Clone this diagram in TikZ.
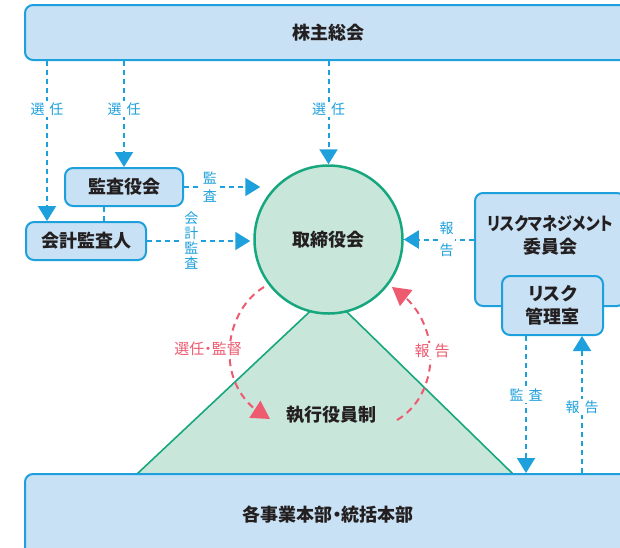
\documentclass[tikz,border=0pt]{standalone}
\usepackage{fontspec}
\setmainfont{Noto Sans CJK JP}[RawFeature=+palt]
\usepackage{tikz}
\usetikzlibrary{%
  positioning,%
  calc,%
  arrows.meta,%
  bending%
}
\definecolor{bline}{HTML}{1EA0DC}
\definecolor{bfill}{HTML}{C9E1F4}
\definecolor{gline}{HTML}{17A77E}
\definecolor{gfill}{HTML}{C9E6DB}
\definecolor{pline}{HTML}{EE5A6F}
\definecolor{ink}{HTML}{231F20}
\tikzset{
	box/.style={draw=bline,fill=bfill,line width=2pt,rounded corners=8pt,inner sep=0pt},
	boxtext/.style={text=ink,align=center,font=\fontsize{18}{23}\selectfont\bfseries},
	blink/.style={bline,line width=2pt,dash pattern=on 5pt off 4pt,-{Triangle[width=18pt,length=15pt]}},
	blabel/.style={fill=white,text=bline,align=center,inner sep=1.5pt,font=\fontsize{14}{16}\selectfont},
	plink/.style={pline,line width=2pt,dash pattern=on 7pt off 5pt,-{Triangle[width=20pt,length=18pt,flex]}},
	plabel/.style={fill=white,text=pline,inner sep=1.5pt,font=\fontsize{15}{17}\selectfont}
}
\begin{document}
\begin{tikzpicture}[x=1pt,y=-1pt]
	\useasboundingbox (0,0) rectangle (620,547);
	%Triangle and circle
	\filldraw[fill=gfill,draw=gline,line width=1.6pt] (137,474) -- (328.5,294) -- (513,474) -- cycle;
	\node[circle,draw=gline,fill=gfill,line width=2.5pt,minimum size=148pt,boxtext] (BD) at (328.5,239.5) {取締役会};
	\node[boxtext] (EO) at (331,415) {執行役員制};
	%Nodes
	\node[box,boxtext,minimum width=606pt,minimum height=55pt] (GM) at (328,32.5) {株主総会};
	\node[box,boxtext,minimum width=118pt,minimum height=38pt] (AB) at (124,187) {監査役会};
	\node[box,boxtext,minimum width=120pt,minimum height=38pt] (AA) at (86,241) {会計監査人};
	\node[box,minimum width=150pt,minimum height=113pt] (RC) at (550,249.5) {};
	\node[boxtext] (RCt) at (550,235.5) {\scalebox{0.85}[1]{リスクマネジメント}\\委員会};
	\node[box,boxtext,minimum width=101pt,minimum height=59pt] (RO) at (552.5,305.5) {リスク\\管理室};
	\node[box,boxtext,minimum width=606pt,minimum height=82pt] (BU) at (328,515) {各事業本部・統括本部};
	%Blue arrows
	\draw[blink] ([xshift=22pt]AA.north west |- GM.south) -- ([xshift=22pt]AA.north west)
		node[blabel,pos=0.3]{選\hspace{5pt}任};
	\draw[blink] (AB.north |- GM.south) -- (AB.north)
		node[blabel,pos=0.45]{選\hspace{5pt}任};
	\draw[blink] (BD.north |- GM.south) -- (BD.north)
		node[blabel,pos=0.47]{選\hspace{5pt}任};
	\draw[bline,line width=2pt,dash pattern=on 5pt off 4pt] ([xshift=-20pt]AB.south) -- ([xshift=-20pt]AB.south |- AA.north);
	\draw[blink] (AB.east) -- ([xshift=7pt]AB.east -| BD.west)
		node[blabel,pos=0.34,font=\fontsize{14}{18}\selectfont]{監\\査};
	\draw[blink] (AA.east) -- ([xshift=-3pt]AA.east -| BD.west)
		node[blabel,pos=0.43,font=\fontsize{14}{15}\selectfont]{会\\計\\監\\査};
	\draw[blink] (RC.west |- BD.east) -- (BD.east)
		node[blabel,pos=0.39,font=\fontsize{14}{22}\selectfont]{報\\告};
	\draw[blink] ([xshift=-26.5pt]RO.south) -- ([xshift=-26.5pt]RO.south |- BU.north)
		node[blabel,pos=0.43]{監\hspace{5pt}査};
	\draw[blink] ([xshift=29.5pt]RO.south |- BU.north) -- ([xshift=29.5pt]RO.south)
		node[blabel,pos=0.48]{報\hspace{5pt}告};
	%Pink arcs
	\coordinate (SL) at (264,287);
	\coordinate (TL) at (270,419);
	\coordinate (SR) at (397,420);
	\coordinate (TR) at (392,287);
	\draw[plink] (SL) .. controls (222,312) and (212,390) .. (TL);
	\draw[plink] (SR) .. controls (440,395) and (445,320) .. (TR);
	\node[plabel] (PL) at (208,349) {選任・監督};
	\node[plabel] (PR) at (432,351) {報\hspace{5pt}告};
\end{tikzpicture}
\end{document}
